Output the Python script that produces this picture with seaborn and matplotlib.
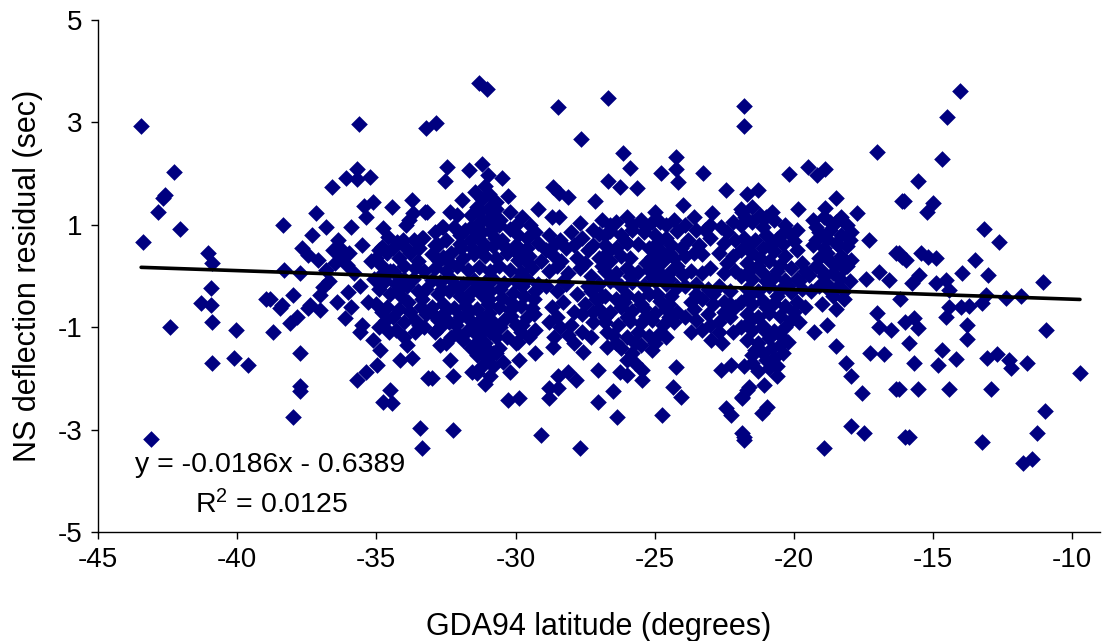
import matplotlib
matplotlib.use("Agg")
import matplotlib.pyplot as plt
import seaborn as sns
import pandas as pd

# ---- data: (GDA94 latitude, NS deflection residual) ----
band_west = [
    (-43.45, 2.93), (-43.4, 0.66), (-43.1, -3.18), (-42.85, 1.25), (-42.67, 1.52),
    (-42.6, 1.58), (-42.27, 2.03), (-42.4, -1.0), (-42.05, 0.92), (-41.3, -0.53),
    (-40.94, -0.57), (-41.05, 0.45), (-40.9, 0.25), (-40.94, -0.23), (-40.9, -0.9),
    (-40.05, -1.05), (-40.9, -1.7), (-40.1, -1.6), (-39.6, -1.74), (-38.97, -0.45),
    (-38.83, -0.45), (-38.4, -0.57), (-38.0, -0.37), (-38.36, 1.0), (-38.3, 0.12),
    (-37.75, 0.06), (-38.72, -1.09), (-38.1, -0.92), (-37.86, -0.8), (-38.47, -0.63),
    (-37.75, -1.5), (-37.75, -2.15), (-37.75, -2.25), (-38.0, -2.75),
]
band_36 = [
    (-37.68, 0.55), (-37.46, 0.41), (-37.1, 0.31), (-37.32, 0.8), (-37.17, 1.23),
    (-36.6, 1.74), (-36.38, 0.7), (-36.31, 0.41), (-36.5, 0.25), (-36.06, 0.22),
    (-36.92, -0.21), (-37.03, -0.37), (-36.03, -0.31), (-37.4, -0.57), (-37.46, -0.63),
    (-37.03, -0.67), (-36.13, -0.82), (-35.63, 2.97), (-35.7, 2.09), (-36.1, 1.91),
    (-35.7, 1.9), (-35.24, 1.93), (-35.13, 1.45), (-35.45, 1.37), (-35.38, 1.15),
    (-35.7, -2.03), (-35.38, -1.88), (-34.99, -1.74), (-34.88, -1.45), (-35.13, -1.25),
    (-36.55, 0.5), (-36.3, 0.55), (-36.2, 0.35), (-36.0, 0.45), (-36.8, 0.12),
    (-36.7, -0.1), (-36.4, -0.5), (-35.9, -0.6), (-35.6, -0.2), (-35.8, 0.05),
    (-35.5, -0.95), (-35.3, -0.5), (-35.6, -1.1), (-35.2, 0.3), (-35.5, 0.6),
    (-35.9, 0.95), (-36.8, 0.95),
]
band_34 = [
    (-34.45, 1.35), (-33.73, 1.48), (-33.7, 1.23), (-33.84, 1.1), (-33.26, 1.25),
    (-34.77, 0.94), (-34.59, 0.76), (-34.27, 0.66), (-34.8, 0.57), (-33.37, 0.74),
    (-33.23, 2.89), (-34.52, -2.23), (-34.77, -2.46), (-34.45, -2.48), (-34.16, -1.64),
    (-33.73, -1.6), (-33.9, -1.35), (-33.44, -2.97), (-33.37, -3.36), (-33.16, -1.99),
    (-35.0, 0.35), (-34.8, 0.2), (-34.6, 0.45), (-34.4, 0.1), (-34.2, 0.35),
    (-34.0, 0.2), (-33.8, 0.45), (-33.5, 0.3), (-33.3, 0.1), (-35.1, -0.05),
    (-34.9, -0.25), (-34.7, -0.1), (-34.5, -0.35), (-34.3, -0.15), (-34.1, -0.4),
    (-33.9, -0.2), (-33.7, -0.05), (-33.5, -0.3), (-33.2, -0.25), (-35.0, -0.55),
    (-34.8, -0.7), (-34.6, -0.6), (-34.4, -0.8), (-34.2, -0.65), (-34.0, -0.9),
    (-33.8, -0.7), (-33.6, -0.85), (-33.4, -0.6), (-33.2, -0.75), (-34.9, -1.0),
    (-34.55, -1.1), (-34.3, -1.05), (-34.0, -1.2), (-33.6, -1.1), (-33.3, -1.0),
    (-33.45, 0.55), (-34.05, 0.7), (-33.95, 1.0), (-34.15, -0.05),
    (-34.9, 0.5), (-34.5, 0.1), (-34.0, -0.05), (-33.6, 0.15), (-33.35, -0.45),
    (-34.65, -0.85), (-34.25, -0.3), (-33.85, -0.5), (-33.45, -0.95), (-34.75, 0.05),
    (-33.95, 0.55), (-33.65, 0.7), (-34.4, 0.55),
]
band_31 = [
    (-31.32, 3.77), (-31.04, 3.65), (-32.87, 2.99), (-32.47, 2.13), (-32.55, 1.86),
    (-31.68, 2.07), (-31.22, 2.19), (-31.0, 1.97), (-30.5, 1.91), (-31.47, 1.64),
    (-31.93, 1.48), (-30.28, 1.56), (-33.19, 1.25), (-32.37, 1.25), (-32.1, 1.19),
    (-32.65, 0.96), (-29.2, 1.31), (-33.33, 0.74), (-30.57, 1.09), (-29.75, 1.15),
    (-29.49, 1.0), (-33.0, -1.99), (-32.26, -1.95), (-32.26, -3.0), (-30.28, -2.42),
    (-29.89, -2.38), (-29.1, -3.1), (-30.82, -1.5), (-30.46, -1.68), (-30.21, -1.88),
    (-29.89, -1.64), (-31.58, -1.88), (-31.4, -1.9), (-32.72, -1.35), (-32.37, -1.64),
    (-29.31, -1.5),
    (-32.9, 0.85), (-32.2, 0.95), (-31.8, 0.9), (-31.4, 1.0), (-30.9, 0.88),
    (-30.2, 0.92), (-29.9, 0.8), (-29.3, 0.85),
    (-32.8, 0.6), (-32.5, 0.7), (-32.0, 0.62), (-31.6, 0.7), (-31.2, 0.66),
    (-30.8, 0.58), (-30.5, 0.7), (-30.0, 0.6), (-29.6, 0.55), (-29.2, 0.65),
    (-33.0, 0.42), (-32.6, 0.38), (-32.3, 0.45), (-31.9, 0.35), (-31.5, 0.42),
    (-31.1, 0.4), (-30.7, 0.36), (-30.3, 0.44), (-29.9, 0.32), (-29.5, 0.4), (-29.1, 0.3),
    (-32.9, 0.15), (-32.5, 0.1), (-32.1, 0.2), (-31.7, 0.12), (-31.3, 0.18),
    (-30.9, 0.1), (-30.6, 0.2), (-30.2, 0.12), (-29.8, 0.08), (-29.4, 0.15),
    (-33.0, -0.08), (-32.7, -0.12), (-32.3, -0.05), (-31.9, -0.15), (-31.5, -0.08),
    (-31.1, -0.12), (-30.8, -0.05), (-30.4, -0.14), (-30.0, -0.1), (-29.6, -0.06), (-29.2, -0.15),
    (-32.8, -0.35), (-32.4, -0.3), (-32.0, -0.4), (-31.6, -0.32), (-31.2, -0.38),
    (-30.9, -0.3), (-30.5, -0.42), (-30.1, -0.34), (-29.7, -0.4), (-29.3, -0.3),
    (-33.0, -0.6), (-32.6, -0.55), (-32.2, -0.62), (-31.8, -0.58), (-31.4, -0.65),
    (-31.0, -0.55), (-30.6, -0.6), (-30.2, -0.66), (-29.8, -0.58), (-29.4, -0.62),
    (-32.8, -0.85), (-32.4, -0.9), (-32.0, -0.8), (-31.6, -0.88), (-31.2, -0.82),
    (-30.8, -0.9), (-30.4, -0.85), (-30.0, -0.95), (-29.6, -0.8),
    (-32.9, -1.1), (-32.1, -1.12), (-31.7, -1.05), (-31.3, -1.15), (-30.9, -1.1),
    (-30.3, -1.2), (-29.8, -1.1), (-29.3, -1.05),
    (-32.5, -1.3), (-31.5, -1.35), (-31.1, -1.3), (-30.6, -1.4), (-29.9, -1.28),
    (-31.3, 1.25), (-31.0, 1.3), (-30.8, 1.2), (-31.2, 1.5), (-30.95, 1.6),
    (-31.1, 1.75), (-31.4, 1.35), (-30.7, 1.45), (-31.6, 1.2), (-30.2, 1.25),
    (-31.4, -1.55), (-31.0, -1.6), (-30.8, -1.75), (-31.2, -1.75), (-30.9, -1.95),
    (-31.1, -2.1), (-31.6, -1.4),
    (-32.75, 0.3), (-32.35, 0.25), (-31.95, 0.55), (-31.55, 0.55), (-31.15, 0.55),
    (-30.75, 0.75), (-30.35, 0.55), (-29.95, 0.45), (-29.55, 0.25), (-32.65, -0.25),
    (-32.15, -0.2), (-31.75, -0.45), (-31.35, -0.25), (-30.95, -0.45), (-30.55, -0.25),
    (-30.15, -0.5), (-29.75, -0.2), (-29.35, -0.45), (-32.95, -0.75), (-32.55, -0.7),
    (-32.15, -0.95), (-31.75, -0.75), (-31.35, -0.95), (-30.95, -0.72), (-30.55, -1.0),
    (-30.15, -0.78), (-29.75, -0.95), (-29.35, -0.75), (-32.7, -1.0), (-32.3, -1.2),
    (-31.9, -1.25), (-31.5, -1.1), (-31.1, -0.98), (-30.7, -1.2), (-30.0, -1.3),
    (-29.5, -1.2), (-32.6, 0.95), (-32.0, 0.8), (-31.6, 0.95), (-31.2, 0.85),
    (-30.6, 1.0), (-30.0, 1.0), (-29.6, 0.75), (-32.9, 0.6), (-31.4, 0.8),
    (-31.0, 1.1), (-30.7, 1.3), (-31.2, 1.1), (-30.85, 1.0), (-31.3, -1.5),
    (-30.7, -1.5), (-31.05, -1.4),
]
band_28 = [
    (-28.49, 3.3), (-27.66, 2.68), (-28.67, 1.74), (-28.42, 1.62), (-28.13, 1.54),
    (-28.7, 1.15), (-28.42, 1.15), (-27.7, 1.03), (-28.78, -2.38), (-28.78, -2.19),
    (-28.49, -2.19), (-28.49, -1.95), (-28.13, -1.88), (-27.81, -2.03), (-27.59, -1.48),
    (-28.67, -1.39), (-27.7, -3.36),
    (-28.8, 0.8), (-28.4, 0.7), (-28.0, 0.85), (-27.6, 0.75), (-27.2, 0.9),
    (-28.9, 0.5), (-28.6, 0.4), (-28.2, 0.55), (-27.8, 0.35), (-27.4, 0.5),
    (-28.8, 0.1), (-28.5, 0.2), (-28.1, 0.05), (-27.7, 0.15), (-27.3, 0.0),
    (-28.9, -0.2), (-28.5, -0.3), (-28.2, -0.15), (-27.8, -0.35), (-27.4, -0.2),
    (-28.7, -0.6), (-28.3, -0.5), (-27.9, -0.7), (-27.5, -0.55), (-27.1, -0.45),
    (-28.8, -0.9), (-28.4, -1.0), (-28.0, -0.95), (-27.6, -1.1), (-27.2, -0.9),
    (-28.6, -1.2), (-27.9, -1.3),
    (-28.6, 0.6), (-27.9, 0.6), (-27.5, 0.25), (-28.35, 0.3), (-28.3, -0.1),
    (-27.6, -0.75), (-28.5, -0.8), (-28.1, -1.15), (-27.3, -1.2),
]
band_25 = [
    (-26.66, 3.48), (-26.12, 2.4), (-25.87, 2.11), (-24.22, 2.32), (-24.22, 2.09),
    (-24.15, 1.84), (-24.79, 2.01), (-26.66, 1.86), (-26.26, 1.74), (-25.65, 1.72),
    (-27.13, 1.46), (-24.0, 1.39), (-25.0, 1.25), (-24.72, -2.71), (-24.22, -1.78),
    (-24.33, -2.17), (-24.07, -2.36), (-27.05, -2.46), (-26.51, -2.25), (-26.37, -2.75),
    (-26.7, -1.39), (-27.05, -1.84), (-26.26, -1.88), (-25.98, -1.93), (-25.44, -2.03),
    (-25.47, -1.84),
    (-26.9, 1.1), (-26.4, 1.05), (-26.0, 1.15), (-25.5, 1.1), (-25.1, 1.05), (-24.6, 1.0), (-24.3, 1.1),
    (-27.0, 0.82), (-26.6, 0.88), (-26.2, 0.8), (-25.8, 0.9), (-25.4, 0.85), (-25.0, 0.8),
    (-24.6, 0.75), (-24.2, 0.88),
    (-26.8, 0.6), (-26.4, 0.55), (-26.0, 0.65), (-25.6, 0.62), (-25.2, 0.55), (-24.8, 0.5),
    (-24.4, 0.6), (-24.05, 0.55),
    (-27.0, 0.35), (-26.6, 0.3), (-26.2, 0.4), (-25.1, 0.38), (-24.7, 0.3), (-24.3, 0.35),
    (-26.8, 0.1), (-26.4, 0.05), (-26.0, 0.15), (-25.6, 0.08), (-25.2, 0.12), (-24.8, 0.05),
    (-24.4, 0.1), (-24.0, 0.02),
    (-27.0, -0.15), (-26.6, -0.1), (-26.2, -0.2), (-25.8, -0.12), (-25.4, -0.18), (-25.0, -0.1),
    (-24.6, -0.15), (-24.2, -0.22),
    (-26.8, -0.4), (-26.4, -0.45), (-26.0, -0.38), (-25.6, -0.42), (-25.2, -0.35), (-24.8, -0.48),
    (-24.4, -0.4),
    (-27.0, -0.65), (-26.6, -0.7), (-26.2, -0.6), (-25.8, -0.68), (-25.4, -0.62), (-25.0, -0.72),
    (-24.6, -0.65), (-24.2, -0.7),
    (-26.8, -0.9), (-26.3, -0.95), (-25.9, -0.88), (-25.5, -0.92), (-25.1, -0.85), (-24.7, -0.95),
    (-24.3, -0.9),
    (-26.5, -1.15), (-26.0, -1.2), (-25.6, -1.1), (-25.2, -1.18), (-24.8, -1.12),
    (-26.2, -1.4), (-25.8, -1.5), (-25.5, -1.35), (-25.1, -1.45), (-26.0, -1.65), (-25.7, -1.7),
    (-26.6, 1.0), (-25.8, 1.0), (-25.3, 0.95), (-24.8, 1.05), (-26.8, 0.8),
    (-26.1, 0.7), (-24.9, 0.65), (-24.5, 0.45), (-26.7, 0.45), (-25.9, 0.35),
    (-25.3, 0.25), (-24.9, 0.2), (-24.2, 0.2), (-26.9, 0.2), (-26.5, -0.05),
    (-25.9, 0.0), (-25.1, -0.02), (-24.5, -0.05), (-26.9, -0.4), (-26.1, -0.5),
    (-25.5, -0.55), (-24.9, -0.35), (-24.5, -0.55), (-26.8, -0.8), (-26.0, -0.8),
    (-25.3, -0.78), (-24.5, -0.8), (-26.4, -1.3), (-25.7, -1.3), (-25.0, -1.3),
    (-24.6, -1.2), (-26.7, -1.1), (-27.2, 0.6), (-27.3, -0.3), (-27.2, -0.7),
]
band_23 = [
    (-23.28, 2.01), (-22.42, 1.68), (-22.93, 1.23), (-22.6, -1.84), (-22.24, -1.74),
    (-22.42, -2.58), (-22.24, -2.71), (-22.96, -1.25), (-22.57, -1.31),
    (-23.9, 1.0), (-23.5, 0.9), (-23.0, 1.0), (-22.6, 0.95), (-22.2, 1.05),
    (-23.8, 0.7), (-23.4, 0.6), (-22.5, 0.65), (-22.1, 0.7), (-23.0, 0.75),
    (-23.9, 0.4), (-23.3, 0.42), (-22.7, 0.45), (-22.2, 0.4),
    (-23.7, 0.1), (-23.3, 0.05), (-23.0, 0.15), (-22.5, 0.05), (-22.1, 0.1),
    (-23.9, -0.2), (-23.5, -0.15), (-23.1, -0.25), (-22.7, -0.2), (-22.3, -0.3),
    (-23.7, -0.5), (-23.3, -0.45), (-22.9, -0.55), (-22.5, -0.5), (-22.1, -0.6),
    (-23.9, -0.8), (-23.5, -0.85), (-23.1, -0.75), (-22.7, -0.9), (-22.3, -0.8),
    (-23.3, -1.05), (-22.2, -1.1),
    (-23.6, 1.15), (-23.2, 0.9), (-22.4, 0.85), (-23.6, 0.45), (-22.4, 0.25),
    (-23.5, -0.35), (-22.9, -0.35), (-22.3, -0.55), (-23.6, -0.65), (-23.0, -0.95),
    (-22.5, -0.7), (-23.7, -1.1), (-22.7, -1.1),
]
band_21 = [
    (-21.78, 3.32), (-21.78, 2.93), (-21.85, 1.25), (-21.67, 1.6), (-21.27, 1.68),
    (-20.16, 1.99), (-19.84, 1.31), (-20.41, 0.82), (-19.7, 0.25), (-19.45, 0.02),
    (-21.78, -3.14), (-21.13, -2.68), (-20.95, -2.56), (-21.85, -2.36), (-21.6, -2.17),
    (-21.06, -2.13), (-21.85, -3.07), (-21.78, -3.2), (-21.85, -2.38), (-21.67, -2.23),
    (-19.26, -1.09), (-18.8, -0.96),
    (-21.9, 1.3), (-21.5, 1.35), (-21.2, 1.2), (-20.8, 1.25),
    (-21.9, 1.0), (-21.5, 1.05), (-21.1, 0.95), (-20.7, 1.1), (-20.3, 1.0),
    (-21.8, 0.75), (-21.4, 0.7), (-21.0, 0.8), (-20.6, 0.72), (-20.0, 0.68),
    (-21.9, 0.5), (-21.5, 0.45), (-21.1, 0.55), (-20.7, 0.48), (-20.3, 0.4), (-19.9, 0.5),
    (-21.7, 0.25), (-21.3, 0.2), (-20.9, 0.3), (-20.5, 0.22), (-20.1, 0.15),
    (-21.9, 0.0), (-21.5, -0.05), (-21.1, 0.05), (-20.7, -0.02), (-20.3, -0.08), (-19.9, -0.05),
    (-21.7, -0.25), (-21.3, -0.3), (-20.9, -0.2), (-20.5, -0.28), (-20.1, -0.32), (-19.7, -0.25),
    (-21.9, -0.5), (-21.5, -0.55), (-21.1, -0.48), (-20.7, -0.52), (-20.3, -0.58), (-19.9, -0.5),
    (-19.6, -0.6),
    (-21.7, -0.75), (-21.3, -0.8), (-20.9, -0.72), (-20.5, -0.78), (-20.1, -0.85), (-19.8, -0.9),
    (-21.9, -1.0), (-21.5, -1.05), (-21.1, -0.98), (-20.7, -1.08), (-20.3, -1.0),
    (-21.7, -1.25), (-21.3, -1.3), (-20.9, -1.22), (-20.5, -1.35), (-20.2, -1.28),
    (-21.5, -1.55), (-21.1, -1.5), (-20.7, -1.6), (-20.4, -1.5),
    (-21.8, -1.75), (-21.3, -1.85), (-20.9, -1.8), (-20.6, -1.95),
    (-21.6, 0.6), (-21.2, 0.35), (-20.8, 0.65), (-20.4, 0.62), (-20.2, 0.85),
    (-21.6, 0.1), (-21.0, -0.1), (-20.6, 0.1), (-20.2, -0.2), (-21.6, -0.4),
    (-21.0, -0.6), (-20.6, -0.4), (-20.0, -0.7), (-21.6, -0.9), (-21.0, -1.1),
    (-20.5, -1.15), (-21.4, -1.45), (-20.8, -1.4), (-21.5, -1.7), (-21.0, -1.65),
    (-20.6, -1.75), (-21.75, 1.15), (-21.0, 1.15), (-19.9, 0.9), (-19.6, 0.1),
    (-19.8, -0.1),
]
band_18 = [
    (-19.5, 2.13), (-19.15, 1.97), (-18.87, 2.09), (-18.47, 1.52), (-18.87, 1.33),
    (-17.72, 1.23), (-17.29, 0.7), (-17.4, -0.06), (-17.0, 2.42), (-18.47, -1.37),
    (-18.12, -1.7), (-17.94, -1.95), (-17.54, -2.29), (-17.94, -2.93), (-17.47, -3.07),
    (-18.9, -3.36), (-17.25, -1.5),
    (-19.3, 1.1), (-18.9, 1.15), (-18.5, 1.05), (-18.1, 1.0),
    (-19.1, 0.85), (-18.7, 0.9), (-18.3, 0.8), (-17.95, 0.85),
    (-19.3, 0.6), (-18.9, 0.55), (-18.5, 0.65), (-18.1, 0.58),
    (-19.1, 0.35), (-18.7, 0.3), (-18.3, 0.4), (-17.95, 0.32),
    (-19.0, 0.1), (-18.6, 0.05), (-18.2, 0.15),
    (-18.8, -0.15), (-18.4, -0.2), (-18.0, -0.1),
    (-18.6, -0.4), (-18.2, -0.45), (-19.4, -0.3), (-19.0, -0.55), (-18.5, -0.65),
    (-19.2, 0.95), (-18.7, 1.05), (-18.3, 1.15), (-19.2, 0.7), (-18.8, 0.72),
    (-18.4, 0.6), (-18.0, 0.7), (-19.2, 0.2), (-18.8, 0.45), (-18.45, 0.25),
    (-18.1, 0.2), (-18.9, 0.0), (-18.35, -0.05), (-18.7, -0.3), (-18.2, -0.3),
    (-19.1, -0.2),
]
band_east = [
    (-16.75, -1.52), (-17.0, -0.72), (-16.93, -1.0), (-16.5, -1.05), (-16.32, -2.21),
    (-16.0, -3.14), (-16.1, 1.46), (-16.32, 0.45), (-16.93, 0.08), (-16.57, -0.08),
    (-15.53, 1.86), (-16.03, 1.46), (-15.0, 1.42), (-15.21, 1.25), (-15.42, 0.45),
    (-15.17, 0.37), (-14.88, 0.35), (-15.67, -0.82), (-15.53, -1.02), (-15.85, -1.31),
    (-15.67, -1.7), (-15.53, -2.21), (-16.21, -2.21), (-15.85, -3.14), (-16.1, 0.37),
    (-15.5, 0.02), (-15.75, -0.14), (-16.2, -0.45), (-16.0, -0.9), (-16.21, 0.45),
    (-15.96, 0.31),
    (-14.02, 3.61), (-14.49, 3.11), (-14.67, 2.29), (-13.16, 0.92), (-12.62, 0.66),
    (-13.48, 0.31), (-13.95, 0.06), (-13.02, 0.02), (-11.04, -0.12), (-14.88, -0.14),
    (-14.53, -0.08), (-14.42, -0.27), (-13.09, -0.37), (-12.37, -0.43), (-11.83, -0.39),
    (-14.42, -0.6), (-13.99, -0.6), (-13.7, -0.59), (-13.23, -0.53), (-14.53, -0.8),
    (-10.94, -1.05), (-9.72, -1.9), (-10.97, -2.64), (-11.26, -3.07), (-11.44, -3.57),
    (-11.76, -3.65), (-13.23, -3.24), (-12.91, -2.21), (-11.62, -1.7), (-12.26, -1.64),
    (-12.19, -1.8), (-13.05, -1.6), (-12.7, -1.52), (-14.17, -1.62), (-14.67, -1.45),
    (-14.81, -1.74), (-14.42, -2.21), (-13.77, -0.96), (-13.77, -1.23),
]

# trendline reported in the chart
slope = -0.0186
intercept = -0.6389
r_squared = 0.0125

x_ticks = [-45, -40, -35, -30, -25, -20, -15, -10]
y_ticks = [-5, -3, -1, 1, 3, 5]

# ---- build table ----
points = (band_west + band_36 + band_34 + band_31 + band_28 + band_25
          + band_23 + band_21 + band_18 + band_east)
df = pd.DataFrame(points, columns=["lat", "resid"])

sns.set_style("ticks")
plt.rcParams["font.family"] = ["Liberation Sans", "DejaVu Sans"]
plt.rcParams["mathtext.default"] = "regular"
plt.rcParams["axes.unicode_minus"] = False
plt.rcParams["text.color"] = "black"
plt.rcParams["axes.labelcolor"] = "black"
plt.rcParams["xtick.color"] = "black"
plt.rcParams["ytick.color"] = "black"

fig = plt.figure(figsize=(11.13, 6.41), dpi=100)
ax = fig.add_axes([98 / 1113, 1 - 532 / 641, (1100 - 98) / 1113, (532 - 20) / 641])

sns.scatterplot(data=df, x="lat", y="resid", marker="D", color="#000080",
                s=72, linewidth=0, ax=ax, zorder=2)

x0, x1 = df["lat"].min(), df["lat"].max()
trend = pd.DataFrame({"lat": [x0, x1], "fit": [slope * x0 + intercept, slope * x1 + intercept]})
sns.lineplot(data=trend, x="lat", y="fit", color="black", linewidth=2.6, ax=ax, zorder=3)

ax.set_xlim(-45, -9)
ax.set_ylim(-5, 5)
ax.set_xticks(x_ticks)
ax.set_yticks(y_ticks)
ax.tick_params(axis="both", labelsize=20, length=5, width=1, colors="black", pad=6)
for s in ["top", "right"]:
    ax.spines[s].set_visible(False)
for s in ["left", "bottom"]:
    ax.spines[s].set_color("#000000")
    ax.spines[s].set_linewidth(1)

ax.set_xlabel("GDA94 latitude (degrees)", fontsize=22, labelpad=28)
ax.set_ylabel("NS deflection residual (sec)", fontsize=22, labelpad=11)

ax.text(-43.67, -3.69, f"y = {slope}x - {abs(intercept)}", fontsize=20.5,
        va="center", ha="left")
ax.text(-41.52, -4.47, f"R$^2$ = {r_squared}", fontsize=20.5, va="center", ha="left")

fig.savefig("out.png", dpi=100)
